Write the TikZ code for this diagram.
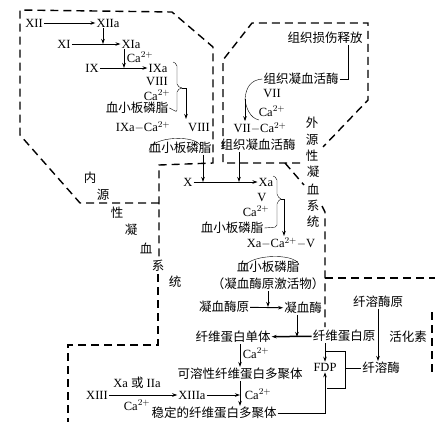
\documentclass[tikz,border=0pt]{standalone}
\usepackage{fontspec}
\setmainfont{Liberation Serif}
\newfontfamily\cjk{Noto Sans CJK SC}
\usepackage{tikz}
\usetikzlibrary{arrows.meta, positioning}

\newcommand{\caion}{Ca$^{2+}$}

\begin{document}
\begin{tikzpicture}[x=1pt, y=-1pt, font=\fontsize{12.5}{14}\selectfont,
  every node/.style={inner sep=1pt},
  arr/.style={-{Stealth[length=5pt,width=3.5pt]}, line width=0.9pt},
  bound/.style={dash pattern=on 8pt off 5pt, line width=1.4pt},
  zh/.style={font=\fontsize{12.5}{14}\selectfont\cjk}]
\path[use as bounding box, fill=white] (0,0) rectangle (435,421);

% Boundaries
\draw[bound] (159,203) -- (80,203) -- (20,135) -- (20,10) -- (172,12) -- (213,47) -- (213,163) -- (159,165) -- (159,258);
\draw[bound] (158,274) -- (158,345) -- (68,345) -- (68,425);
\draw[bound] (300,163) -- (223,163) -- (223,60) -- (252,23) -- (368,23) -- (368,100) -- (323,147);
\draw[bound] (285,163) -- (304,185);
\draw[bound] (322,206) -- (325,212) -- (325,327);
\draw[bound] (325,278) -- (440,278);
\draw[bound] (432,312) -- (432,372);

% System labels
\foreach \ch/\px/\py [count=\i] in {内/90/178, 源/103/195, 性/117/213, 凝/131/230, 血/146/248, 系/158/266, 统/175/282}
  \node[zh] (in\i) at (\px,\py) {\ch};
\foreach \ch/\px/\py [count=\i] in {外/312/123, 源/312/140, 性/312/156, 凝/313/172, 血/313/189, 系/313/206, 统/313/222}
  \node[zh] (ex\i) at (\px,\py) {\ch};

% Intrinsic
\node (f12) at (34,23) {XII};
\node (f12a) at (108,23) {XIIa};
\node (f11) at (64,44) {XI};
\node (f11a) at (131,44) {XIa};
\node (ca1) at (140,57) {\caion};
\node (f9) at (92,68) {IX};
\node (f9a) at (158,68) {IXa};
\node (f8) at (157,81) {VIII};
\node (ca2) at (157,95) {\caion};
\node[zh] (pl1) at (137,108) {血小板磷脂};
\node (f9ca) at (143,127) {IXa$-$\caion};
\node (f8b) at (199,127) {VIII};
\node[zh] (pl2) at (180,148) {血小板磷脂};

\draw[arr] (f12) -- (f12a);
\draw[arr] (f11) -- (f11a);
\draw[arr] (f9) -- (f9a);
\draw[arr] ([xshift=-5pt]f12a.south) -- ([xshift=-5pt]f12a.south |- f11a.west);
\draw[arr] ([xshift=-7pt]f11a.south) -- ([xshift=-7pt]f11a.south |- f9a.west);

\coordinate (j1) at (182,88);
\draw[rounded corners=2pt] (173,62) -- (177,64) -- (177,86) -- (j1);
\draw[rounded corners=2pt] (pl1.east) -- (177,112) -- (177,90) -- (j1);
\draw[arr] (j1) -- (186,88) -- (186,119);
\draw (149,151) .. controls (150,136) and (198,134) .. (201,147);

% Extrinsic
\node[zh] (rel) at (325,38) {组织损伤释放};
\node[zh] (tf1) at (301,79) {组织凝血活酶};
\node (f7) at (272,93) {VII};
\node (ca3) at (272,111) {\caion};
\node (f7ca) at (260,128) {VII$-$\caion};
\node[zh] (tf2) at (258,145) {组织凝血活酶};

\draw ([xshift=23pt]rel.south) |- (tf1.east);
\coordinate (j3) at (245,99);
\draw (tf1.west) .. controls (250,80) and (246,88) .. (j3);
\draw (259,120) .. controls (250,118) and (246,108) .. (j3);
\draw[arr] (j3) -- (j3 |- f7ca.north);

% Common pathway
\node (fx) at (188,182) {X};
\node (fxa) at (266,182) {Xa};
\node (f5) at (262,197) {V};
\node (ca4) at (256,211) {\caion};
\node[zh] (pl3) at (232,228) {血小板磷脂};
\node (pa) at (281,243) {Xa$-$\caion$-$V};
\node[zh] (pl4) at (268,267) {血小板磷脂};
\node[zh] (pa2) at (268,284) {（凝血酶原激活物）};
\node[zh] (pt) at (224,307) {凝血酶原};
\node[zh] (th) at (303,308) {凝血酶};
\node[zh] (fm) at (233,337) {纤维蛋白单体};
\node[zh] (fg) at (344,336) {纤维蛋白原};
\node (ca5) at (256,353) {\caion};
\node[zh] (sf) at (240,374) {可溶性纤维蛋白多聚体};
\node (ca6) at (258,394) {\caion};
\node (f13) at (97,395) {XIII};
\node (f13a) at (192,395) {XIIIa};
\node (xo) at (137,383) {Xa {\cjk 或} IIa};
\node (ca7) at (137,405) {\caion};
\node[zh] (st) at (214,413) {稳定的纤维蛋白多聚体};

\draw[arr] (fx) -- (fxa);
\draw[arr] ([xshift=23pt]pl2.south) -- ([xshift=23pt]pl2.south |- fx.east);
\draw[arr] ([xshift=-19pt]tf2.south) -- ([xshift=-19pt]tf2.south |- fxa.west);
\coordinate (j2) at (281,199);
\draw[rounded corners=2pt] (273,176) -- (277,178) -- (277,196) -- (j2);
\draw[rounded corners=2pt] (pl3.east) -- (277,227) -- (277,202) -- (j2);
\draw[arr] (j2) -- (284,199) -- (284,236);
\draw (243,270) .. controls (244,254) and (296,252) .. (299,265);
\draw[arr] (pa2.south) -- (pa2.south |- pt.east);
\draw[arr] (pt) -- (th);
\draw[arr] ([xshift=-6pt]th.south) -- ([xshift=-6pt]th.south |- fm.east);
\draw[arr, line width=1.5pt] (fg) -- (fm);
\draw[arr] (fm.south -| sf.north) -- (sf.north);
\draw[arr] (sf.south) -- (sf.south |- st.north);
\draw[arr] (f13) -- (f13a);
\draw[arr] (f13a) -- (f13a -| sf.south);

% Fibrinolysis
\node (fdp) at (325,367) {FDP};
\node[zh] (plg) at (378,302) {纤溶酶原};
\node[zh] (act) at (408,337) {活化素};
\node[zh] (pls) at (381,368) {纤溶酶};

\draw[arr] (fg.south -| fdp.north) -- (fdp.north);
\draw[arr] (st.east) -| (fdp.south);
\draw (325,351) -- (345,351) -- (345,388) -- (327,388);
\coordinate (bx) at (345,368);
\draw (bx) -- (pls);
\draw[arr] (plg.south) -- (plg.south |- pls.north);
\end{tikzpicture}
\end{document}
